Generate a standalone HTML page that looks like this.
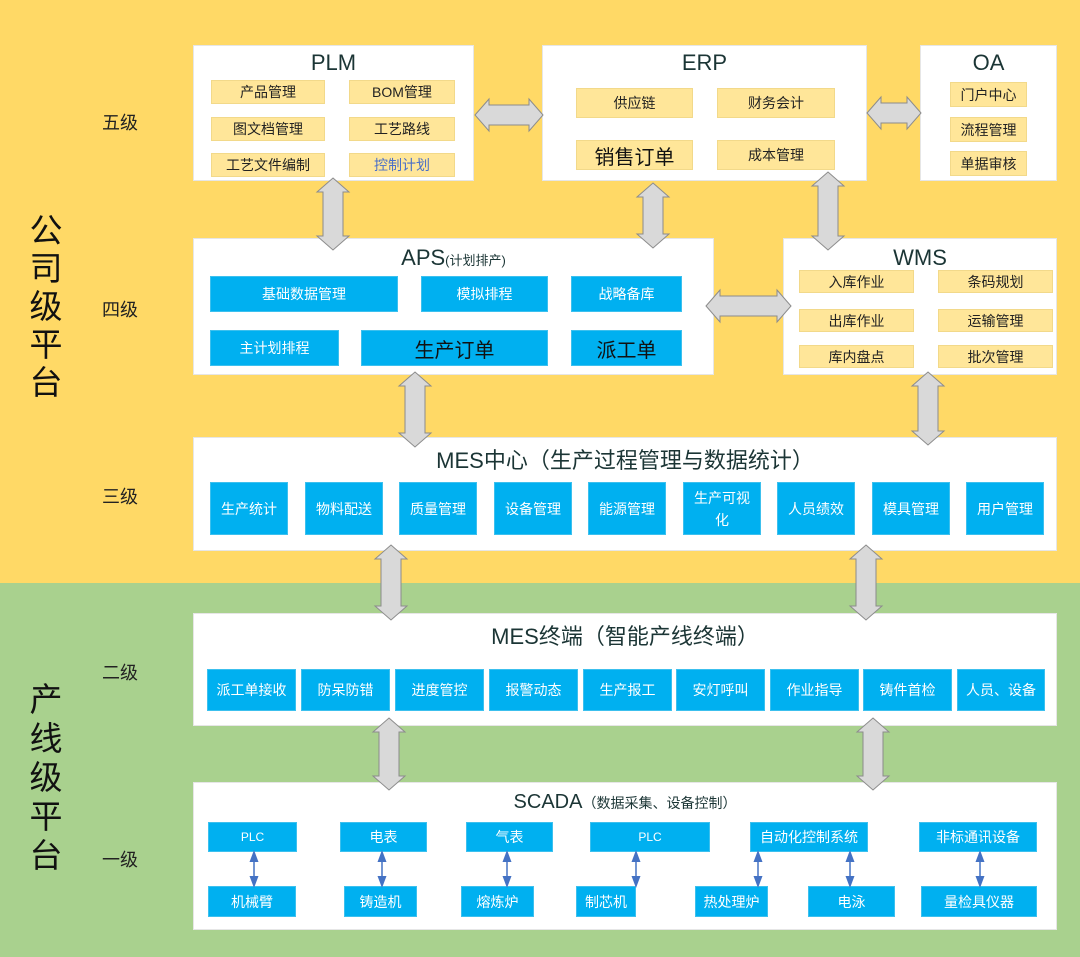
<!DOCTYPE html>
<html><head><meta charset="utf-8"><style>
*{margin:0;padding:0;box-sizing:border-box}
body{width:1080px;height:957px;position:relative;overflow:hidden;font-family:"Liberation Sans","Noto Sans CJK SC",sans-serif;background:#A9D18E}
.top{position:absolute;left:0;top:0;width:1080px;height:583px;background:#FFD966}
.box{position:absolute;background:#fff;border:1px solid #e6e6e6}
.t{position:absolute;left:0;right:0;text-align:center;color:#1b3535;font-size:22px;line-height:26px}
.y,.b{position:absolute;display:flex;align-items:center;justify-content:center;font-size:14px;white-space:nowrap}
.y{background:#FFE699;border:1px solid #f2d98a;color:#222}
.b{background:#00B0F0;border:1px solid #3cc0ee;color:#fff}
.k{color:#111;font-size:20px}
.lv{position:absolute;font-size:18px;color:#222}
.big{position:absolute;font-size:33px;line-height:38px;width:40px;text-align:center;color:#111}
</style></head><body>
<div class="top"></div>
<div class="big" style="left:26px;top:212px">公<br>司<br>级<br>平<br>台</div>
<div class="big" style="left:26px;top:680px;line-height:39px">产<br>线<br>级<br>平<br>台</div>
<div class="lv" style="left:102px;top:109px">五级</div>
<div class="lv" style="left:102px;top:296px">四级</div>
<div class="lv" style="left:102px;top:483px">三级</div>
<div class="lv" style="left:102px;top:659px">二级</div>
<div class="lv" style="left:102px;top:846px">一级</div>

<div class="box" style="left:193px;top:45px;width:281px;height:136px"><div class="t" style="top:4px">PLM</div></div>
<div class="y" style="left:211px;top:80px;width:114px;height:24px">产品管理</div>
<div class="y" style="left:349px;top:80px;width:106px;height:24px">BOM管理</div>
<div class="y" style="left:211px;top:117px;width:114px;height:24px">图文档管理</div>
<div class="y" style="left:349px;top:117px;width:106px;height:24px">工艺路线</div>
<div class="y" style="left:211px;top:153px;width:114px;height:24px">工艺文件编制</div>
<div class="y" style="left:349px;top:153px;width:106px;height:24px;color:#4a6fc8">控制计划</div>

<div class="box" style="left:542px;top:45px;width:325px;height:136px"><div class="t" style="top:4px">ERP</div></div>
<div class="y" style="left:576px;top:88px;width:117px;height:30px">供应链</div>
<div class="y" style="left:717px;top:88px;width:118px;height:30px">财务会计</div>
<div class="y k" style="left:576px;top:140px;width:117px;height:30px">销售订单</div>
<div class="y" style="left:717px;top:140px;width:118px;height:30px">成本管理</div>

<div class="box" style="left:920px;top:45px;width:137px;height:136px"><div class="t" style="top:4px">OA</div></div>
<div class="y" style="left:950px;top:82px;width:77px;height:25px">门户中心</div>
<div class="y" style="left:950px;top:117px;width:77px;height:25px">流程管理</div>
<div class="y" style="left:950px;top:151px;width:77px;height:25px">单据审核</div>

<div class="box" style="left:193px;top:238px;width:521px;height:137px"><div class="t" style="top:6px">APS<span style="font-size:13px">(计划排产)</span></div></div>
<div class="b" style="left:210px;top:276px;width:188px;height:36px">基础数据管理</div>
<div class="b" style="left:421px;top:276px;width:127px;height:36px">模拟排程</div>
<div class="b" style="left:571px;top:276px;width:111px;height:36px">战略备库</div>
<div class="b" style="left:210px;top:330px;width:129px;height:36px">主计划排程</div>
<div class="b k" style="left:361px;top:330px;width:187px;height:36px">生产订单</div>
<div class="b k" style="left:571px;top:330px;width:111px;height:36px">派工单</div>

<div class="box" style="left:783px;top:238px;width:274px;height:137px"><div class="t" style="top:6px">WMS</div></div>
<div class="y" style="left:799px;top:270px;width:115px;height:23px">入库作业</div>
<div class="y" style="left:938px;top:270px;width:115px;height:23px">条码规划</div>
<div class="y" style="left:799px;top:309px;width:115px;height:23px">出库作业</div>
<div class="y" style="left:938px;top:309px;width:115px;height:23px">运输管理</div>
<div class="y" style="left:799px;top:345px;width:115px;height:23px">库内盘点</div>
<div class="y" style="left:938px;top:345px;width:115px;height:23px">批次管理</div>

<div class="box" style="left:193px;top:437px;width:864px;height:114px"><div class="t" style="top:10px">MES中心（生产过程管理与数据统计）</div></div>
<div class="b" style="left:210px;top:482px;width:78px;height:53px">生产统计</div>
<div class="b" style="left:305px;top:482px;width:78px;height:53px">物料配送</div>
<div class="b" style="left:399px;top:482px;width:78px;height:53px">质量管理</div>
<div class="b" style="left:494px;top:482px;width:78px;height:53px">设备管理</div>
<div class="b" style="left:588px;top:482px;width:78px;height:53px">能源管理</div>
<div class="b" style="left:683px;top:482px;width:78px;height:53px;white-space:normal;text-align:center;padding:0 6px;line-height:22px">生产可视化</div>
<div class="b" style="left:777px;top:482px;width:78px;height:53px">人员绩效</div>
<div class="b" style="left:872px;top:482px;width:78px;height:53px">模具管理</div>
<div class="b" style="left:966px;top:482px;width:78px;height:53px">用户管理</div>

<div class="box" style="left:193px;top:613px;width:864px;height:113px"><div class="t" style="top:10px">MES终端（智能产线终端）</div></div>
<div class="b" style="left:207px;top:669px;width:89px;height:42px">派工单接收</div>
<div class="b" style="left:301px;top:669px;width:89px;height:42px">防呆防错</div>
<div class="b" style="left:395px;top:669px;width:89px;height:42px">进度管控</div>
<div class="b" style="left:489px;top:669px;width:89px;height:42px">报警动态</div>
<div class="b" style="left:583px;top:669px;width:89px;height:42px">生产报工</div>
<div class="b" style="left:676px;top:669px;width:89px;height:42px">安灯呼叫</div>
<div class="b" style="left:770px;top:669px;width:89px;height:42px">作业指导</div>
<div class="b" style="left:863px;top:669px;width:89px;height:42px">铸件首检</div>
<div class="b" style="left:957px;top:669px;width:88px;height:42px">人员、设备</div>

<div class="box" style="left:193px;top:782px;width:864px;height:148px"><div class="t" style="top:6px;font-size:20px">SCADA<span style="font-size:14px">（数据采集、设备控制）</span></div></div>
<div class="b" style="left:208px;top:822px;width:89px;height:30px;font-size:12px">PLC</div>
<div class="b" style="left:340px;top:822px;width:87px;height:30px">电表</div>
<div class="b" style="left:466px;top:822px;width:87px;height:30px">气表</div>
<div class="b" style="left:590px;top:822px;width:120px;height:30px;font-size:12px">PLC</div>
<div class="b" style="left:750px;top:822px;width:118px;height:30px">自动化控制系统</div>
<div class="b" style="left:919px;top:822px;width:118px;height:30px">非标通讯设备</div>
<div class="b" style="left:208px;top:886px;width:88px;height:31px">机械臂</div>
<div class="b" style="left:344px;top:886px;width:73px;height:31px">铸造机</div>
<div class="b" style="left:461px;top:886px;width:73px;height:31px">熔炼炉</div>
<div class="b" style="left:576px;top:886px;width:60px;height:31px">制芯机</div>
<div class="b" style="left:695px;top:886px;width:73px;height:31px">热处理炉</div>
<div class="b" style="left:808px;top:886px;width:87px;height:31px">电泳</div>
<div class="b" style="left:921px;top:886px;width:116px;height:31px">量检具仪器</div>

<svg width="1080" height="957" style="position:absolute;left:0;top:0">
<defs><marker id="m" markerWidth="8" markerHeight="8" refX="4" refY="4" orient="auto-start-reverse"><path d="M0,1 L8,4 L0,7 z" fill="#4472C4"/></marker></defs>
<g fill="#D9D9D9" stroke="#8c8c8c" stroke-width="1">
<polygon points="333,178 349,192 343,192 343,236 349,236 333,250 317,236 323,236 323,192 317,192"/>
<polygon points="653,183 669,197 663,197 663,234 669,234 653,248 637,234 643,234 643,197 637,197"/>
<polygon points="828,172 844,186 838,186 838,236 844,236 828,250 812,236 818,236 818,186 812,186"/>
<polygon points="415,372 431,386 425,386 425,433 431,433 415,447 399,433 405,433 405,386 399,386"/>
<polygon points="928,372 944,386 938,386 938,431 944,431 928,445 912,431 918,431 918,386 912,386"/>
<polygon points="391,545 407,559 401,559 401,606 407,606 391,620 375,606 381,606 381,559 375,559"/>
<polygon points="866,545 882,559 876,559 876,606 882,606 866,620 850,606 856,606 856,559 850,559"/>
<polygon points="389,718 405,732 399,732 399,776 405,776 389,790 373,776 379,776 379,732 373,732"/>
<polygon points="873,718 889,732 883,732 883,776 889,776 873,790 857,776 863,776 863,732 857,732"/>
<polygon points="475,115 489,99 489,105 529,105 529,99 543,115 529,131 529,125 489,125 489,131"/>
<polygon points="867,113 881,97 881,103 907,103 907,97 921,113 907,129 907,123 881,123 881,129"/>
<polygon points="706,306 720,290 720,296 777,296 777,290 791,306 777,322 777,316 720,316 720,322"/>
</g>
<g stroke="#4472C4" stroke-width="1.5" marker-start="url(#m)" marker-end="url(#m)">
<line x1="254" y1="856" x2="254" y2="882"/>
<line x1="382" y1="856" x2="382" y2="882"/>
<line x1="507" y1="856" x2="507" y2="882"/>
<line x1="636" y1="856" x2="636" y2="882"/>
<line x1="758" y1="856" x2="758" y2="882"/>
<line x1="850" y1="856" x2="850" y2="882"/>
<line x1="980" y1="856" x2="980" y2="882"/>
</g>
</svg>
</body></html>
